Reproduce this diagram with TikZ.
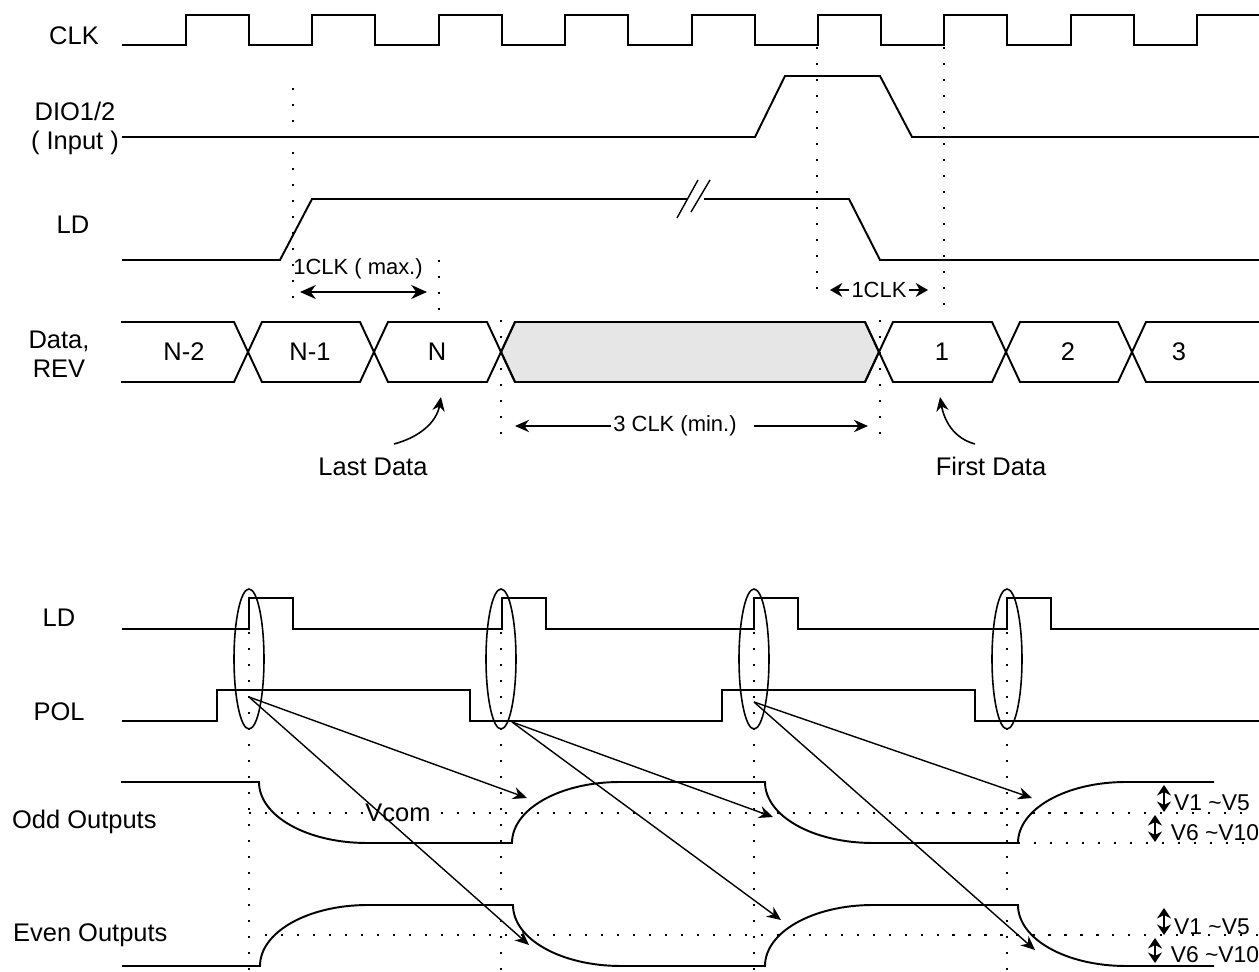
\documentclass[tikz,border=0pt]{standalone}
\usepackage{fontspec}
\setmainfont{Liberation Sans}
\usetikzlibrary{arrows.meta}
\definecolor{datagray}{HTML}{E6E6E6}

\begin{document}
\begin{tikzpicture}[x=0.02cm, y=-0.02cm, >={Stealth[length=8pt,width=7pt]},
    wave/.style={line width=1.1pt},
    guide/.style={line width=1.1pt, dash pattern=on 1.2pt off 7.9pt},
    pointer/.style={->, line width=0.8pt},
    span/.style={<->, line width=1pt, >={Stealth[length=6pt,width=8pt]}},
    lbl/.style={font=\fontsize{14.5}{16.5}\selectfont, inner sep=1pt},
    small/.style={font=\fontsize{12.5}{15}\selectfont, inner sep=1pt}]
    \useasboundingbox (0,0) rectangle (1259,972);

    \node[lbl] (clk) at (74,36) {CLK};
    \draw[wave] (122,45) \foreach \k in {0,...,7} {-- ({186+126.4*\k},45) -- ({186+126.4*\k},15) -- ({249+126.4*\k},15) -- ({249+126.4*\k},45)} -- (1197,45) -- (1197,15) -- (1259,15);

    \node[lbl, align=center] (dio) at (75,128) {DIO1/2\\( Input )};
    \draw[wave] (122,137) -- (755,137) -- (785,76) -- (880,76) -- (912,137) -- (1259,137);

    \node[lbl] (ldtop) at (73,225) {LD};
    \draw[wave] (122,260) -- (280,260) -- (312,199) -- (687,199);
    \draw[wave] (704,199) -- (849,199) -- (880,260) -- (1259,260);
    \draw[line width=0.8pt] (677,218) -- (698,180);
    \draw[line width=0.8pt] (691,212) -- (710,180);

    \draw[guide] (293,88) -- (293,310);
    \draw[guide] (439,260) -- (439,310);
    \draw[guide] (817,47) -- (817,300);
    \draw[guide] (944,47) -- (944,315);
    \draw[guide] (501,320) -- (501,435);
    \draw[guide] (880,320) -- (880,435);

    \node[small] (maxlbl) at (358,269) {1CLK ( max.)};
    \coordinate (maxL) at (300,292);
    \coordinate (maxR) at (427,292);
    \draw[<->, line width=1.1pt, >={Stealth[length=9pt,width=8pt]}] (maxL) -- (maxR);

    \node[small] (clkone) at (879,290) {1CLK};
    \coordinate (oneL) at (830,290);
    \coordinate (oneR) at (928,290);
    \draw[->, line width=0.9pt, >={Stealth[length=7pt,width=8pt]}] (clkone) -- (oneL);
    \draw[->, line width=0.9pt, >={Stealth[length=7pt,width=8pt]}] (clkone) -- (oneR);

    \node[lbl, align=center] (data) at (59,354) {Data,\\REV};
    \filldraw[wave, fill=datagray] (501,352) -- (515,322) -- (865,322) -- (879,352) -- (865,382) -- (515,382) -- cycle;
    \draw[wave] (121,322) -- (234,322) -- (262,382) -- (360,382) -- (388,322) -- (487,322) -- (515,382) -- (865,382) -- (893,322) -- (992,322) -- (1020,382) -- (1118,382) -- (1146,322) -- (1259,322);
    \draw[wave] (121,382) -- (234,382) -- (262,322) -- (360,322) -- (388,382) -- (487,382) -- (515,322) -- (865,322) -- (893,382) -- (992,382) -- (1020,322) -- (1118,322) -- (1146,382) -- (1259,382);
    \node[lbl] (dnm2) at (184,352) {N-2};
    \node[lbl] (dnm1) at (310,352) {N-1};
    \node[lbl] (dn) at (437,352) {N};
    \node[lbl] (done) at (942,352) {1};
    \node[lbl] (dtwo) at (1068,352) {2};
    \node[lbl] (dthree) at (1179,352) {3};

    \node[lbl] (lastdata) at (373,467) {Last Data};
    \coordinate (lastS) at (394,444);
    \coordinate (lastN) at (441,397);
    \draw[->, line width=0.9pt] (lastS) to[out=15, in=-100] (lastN);

    \node[lbl] (firstdata) at (991,466) {First Data};
    \coordinate (firstS) at (975,444);
    \coordinate (firstN) at (940,397);
    \draw[->, line width=0.9pt] (firstS) to[out=165, in=-80] (firstN);

    \node[small] (minlbl) at (675,426) {3 CLK (min.)};
    \coordinate (minL) at (515,426);
    \coordinate (minR) at (868,426);
    \draw[pointer] (minlbl) -- (minL);
    \draw[pointer, shorten <=0.3cm] (minlbl) -- (minR);

    \node[lbl] (ldbot) at (59,618) {LD};
    \draw[wave] (122,629) \foreach \k in {0,...,3} {-- ({249+252.7*\k},629) -- ({249+252.7*\k},598) -- ({293+252.7*\k},598) -- ({293+252.7*\k},629)} -- (1259,629);

    \node[lbl] (pol) at (59,712) {POL};
    \draw[wave] (122,721) -- (217,721) -- (217,690) -- (470,690) -- (470,721) -- (722,721) -- (722,690) -- (975,690) -- (975,721) -- (1259,721);

    \foreach \x in {249,501,754,1007} {
        \draw[line width=0.9pt] (\x,659) ellipse (0.3cm and 1.4cm);
        \draw[guide] (\x,632) -- (\x,970);
    }

    \node[lbl, anchor=west] (odd) at (10,822) {Odd Outputs};
    \draw[guide] (249,813) -- (1244,813);
    \draw[guide] (1018,843) -- (1257,843);
    \draw[wave] (121,782) -- (259,782) .. controls (259,816) and (307,843) .. (367,843) -- (512,843) .. controls (512,809) and (560,782) .. (620,782) -- (765,782) .. controls (765,816) and (813,843) .. (873,843) -- (1018,843) .. controls (1018,809) and (1066,782) .. (1126,782) -- (1214,782);
    \node[lbl, fill=white] (vcom) at (398,813) {Vcom};

    \node[lbl, anchor=west] (even) at (11,935) {Even Outputs};
    \draw[guide] (265,935) -- (1259,935);
    \draw[wave] (122,966) -- (260,966) .. controls (260,932) and (308,905) .. (368,905) -- (513,905) .. controls (513,939) and (561,966) .. (621,966) -- (765,966) .. controls (765,932) and (813,905) .. (873,905) -- (1018,905) .. controls (1018,939) and (1066,966) .. (1126,966) -- (1214,966);

    \coordinate (polA) at (249,697);
    \coordinate (polB) at (512,722);
    \coordinate (polC) at (754,702);
    \coordinate (oddA) at (527,798);
    \coordinate (evenA) at (529,945);
    \coordinate (oddB) at (773,817);
    \coordinate (evenB) at (781,920);
    \coordinate (oddC) at (1032,798);
    \coordinate (evenC) at (1035,950);
    \draw[pointer] (polA) -- (oddA);
    \draw[pointer] (polA) -- (evenA);
    \draw[pointer] (polB) -- (oddB);
    \draw[pointer] (polB) -- (evenB);
    \draw[pointer] (polC) -- (oddC);
    \draw[pointer] (polC) -- (evenC);

    \coordinate (oddHi) at (1164,785);
    \coordinate (oddMid) at (1164,812);
    \coordinate (oddMidB) at (1155,815);
    \coordinate (oddLo) at (1155,842);
    \draw[span] (oddHi) -- (oddMid);
    \draw[span] (oddMidB) -- (oddLo);
    \node[small, font=\fontsize{13}{15}\selectfont] (oddpos) at (1212,803) {V1 \textasciitilde{}V5};
    \node[small, font=\fontsize{13}{15}\selectfont] (oddneg) at (1215,833) {V6 \textasciitilde{}V10};

    \coordinate (evenHi) at (1164,908);
    \coordinate (evenMid) at (1164,935);
    \coordinate (evenMidB) at (1155,938);
    \coordinate (evenLo) at (1155,963);
    \draw[span] (evenHi) -- (evenMid);
    \draw[span] (evenMidB) -- (evenLo);
    \node[small, font=\fontsize{13}{15}\selectfont] (evenpos) at (1212,927) {V1 \textasciitilde{}V5};
    \node[small, font=\fontsize{13}{15}\selectfont] (evenneg) at (1215,955) {V6 \textasciitilde{}V10};
\end{tikzpicture}
\end{document}
